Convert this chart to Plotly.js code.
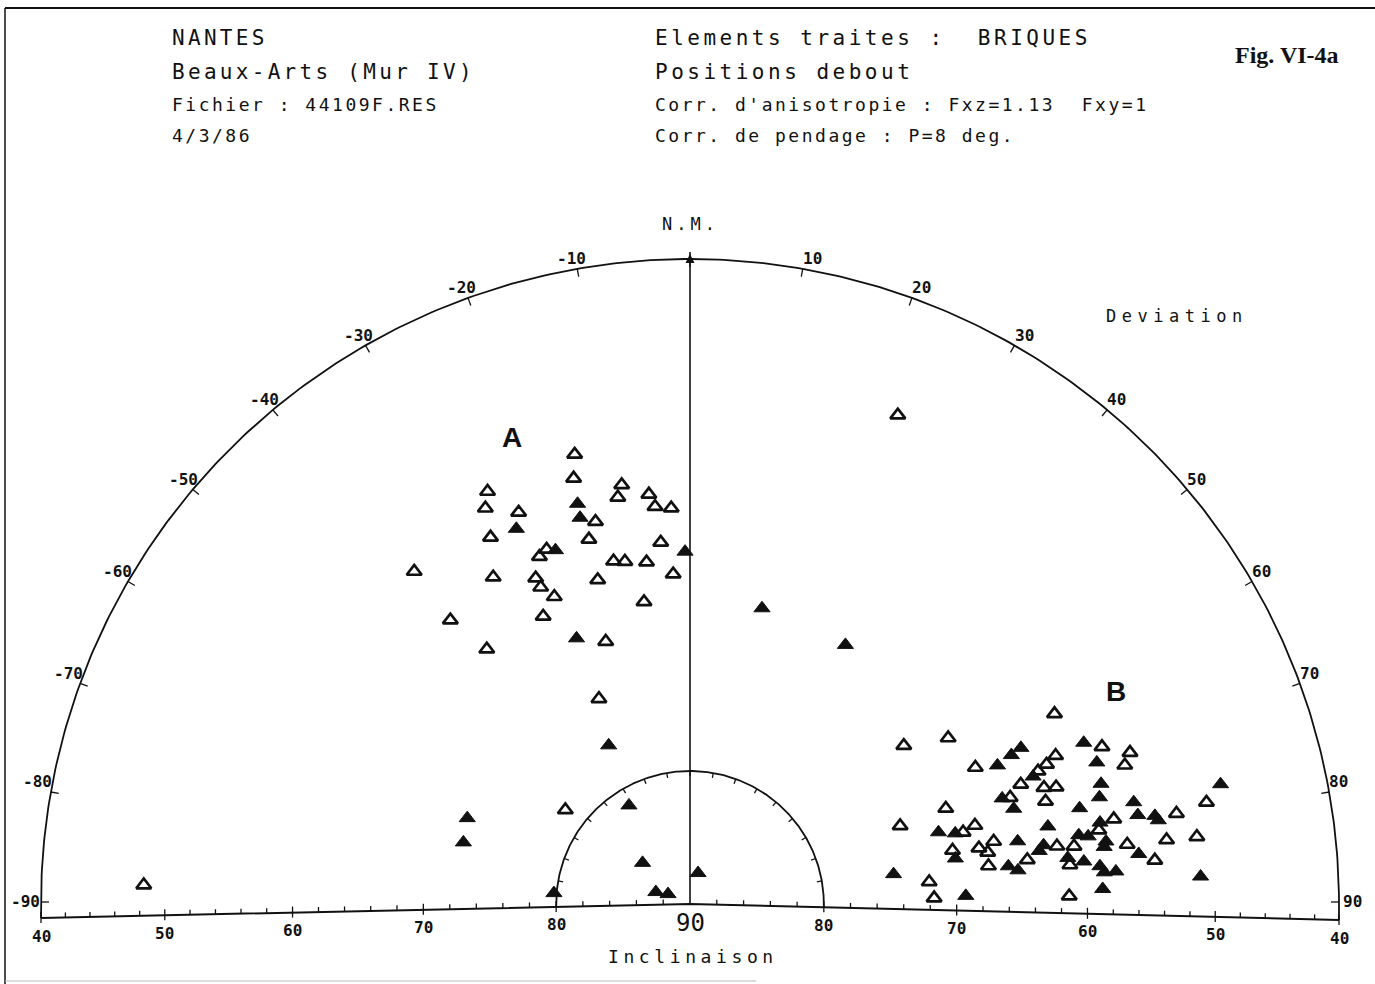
<!DOCTYPE html>
<html><head><meta charset="utf-8">
<script src="https://cdn.plot.ly/plotly-3.0.1.min.js"></script>
<style>html,body{margin:0;padding:0;background:#fff}#chart{width:1375px;height:984px}</style>
</head><body><div id="chart"></div>
<script>
// ---- Data: deviation (deg) and inclination (deg) of each specimen ----
// open triangles
const openDev = [-14.3,-15.2,-9.2,-10.0,-5.7,-5.0,-2.7,-26.0,-27.2,-23.5,-13.8,-28.4,-15.4,-4.6,-23.3,-21.9,-12.5,-10.7,-7.2,-39.5,-30.9,-25.2,-25.1,-15.8,-2.9,-23.7,-8.6,-40.0,-26.9,-17.7,-38.4,-23.8,-52.8,-88.0,22.9,
  53.3,57.1,64.3,62.3,68.5,69.0,70.0,71.7,71.5,73.8,69.4,69.5,74.5,75.2,78.3,78.4,79.0,80.1,82.5,82.7,84.7,88.6,69.0,70.9,67.8,72.2,72.2,78.8,79.4,78.6,79.7,81.0,81.4,82.2,82.3,82.4,84.1,84.6,88.8];
const openInc = [54.6,56.4,57.7,58.6,58.7,59.7,59.9,55.0,56.1,57.5,60.1,58.3,61.3,62.5,61.3,61.0,63.4,63.6,63.9,57.2,61.1,62.7,63.5,64.5,65.0,64.6,66.9,61.9,65.6,69.2,65.4,73.1,78.3,48.3,49.3,
  70.0,66.9,66.2,58.9,61.1,61.9,63.5,61.9,64.6,62.1,69.5,73.2,67.8,68.8,66.7,69.9,67.9,67.3,64.4,67.4,72.0,71.7,56.6,54.7,60.2,55.4,61.0,49.9,52.4,57.3,58.6,62.0,60.7,56.6,53.5,51.1,61.2,54.6,61.4];
// filled triangles
const fillDev = [-15.6,-15.8,-24.7,-20.7,-0.8,-23.0,-27.0,-68.8,-74.7,-31.6,-48.9,-70.6,-65.6,14.5,-85.4,13.6,30.8,
  64.6,65.0,65.6,69.5,71.2,73.5,73.8,75.0,79.1,80.5,81.3,80.2,83.2,84.1,81.6,88.3,77.7,67.6,70.7,73.6,75.3,76.1,77.0,78.7,79.2,79.8,77.2,78.7,79.9,80.3,81.4,82.1,83.0,83.8,83.6,84.7,85.6,85.6,87.9,86.9];
const fillInc = [58.4,59.5,58.6,61.3,63.3,68.2,76.6,72.1,72.4,81.3,85.3,87.3,88.2,87.6,79.8,67.0,67.2,
  62.4,63.3,64.6,62.4,65.2,64.6,70.6,69.4,64.9,63.0,63.4,69.8,65.9,65.2,74.6,69.3,62.4,57.8,57.4,57.6,58.0,59.7,55.5,55.4,54.1,53.9,48.5,58.4,60.2,59.5,58.2,58.4,61.3,60.1,55.8,58.9,58.6,57.7,58.8,51.1];

const devLabels = [-90,-80,-70,-60,-50,-40,-30,-20,-10,10,20,30,40,50,60,70,80,90];
const incLabels = [40,50,60,70,80,90];
const innerInc = 80;

const headerLeft = ["NANTES","Beaux-Arts (Mur IV)","Fichier : 44109F.RES","4/3/86"];
const headerRight = ["Elements traites :\u00a0 BRIQUES","Positions debout","Corr. d'anisotropie : Fxz=1.13\u00a0 Fxy=1","Corr. de pendage : P=8 deg."];

// ---- Equal-area projection ----
const DEG = Math.PI/180;
const S25 = Math.sin(25*DEG);
function rProj(inc){ return Math.sin((90-inc)/2*DEG)/S25; }
function px(dev, inc){ const r=rProj(inc); return r*Math.sin(dev*DEG); }
function py(dev, inc){ const r=rProj(inc); return r*Math.cos(dev*DEG); }

const W=1375, H=984, CX=690, CY=904, KX=649, KY=645;
const ux = p => p/KX, uy = p => p/KY;
const xr=[-CX/KX,(W-CX)/KX], yr=[(CY-H)/KY, CY/KY];
const BLK = '#111';
const MONO = '"DejaVu Sans Mono", monospace';
// the scanned baseline sags slightly towards both ends
const SAG_L = 14, SAG_R = 16;
function baseY(xu){ return xu<0 ? -uy(SAG_L)*(-xu) : -uy(SAG_R)*xu; }

// arcs
function arc(r){
  const x=[r*Math.sin(-90*DEG)],y=[baseY(-r)];
  for(let d=-90; d<=90.001; d+=0.5){x.push(r*Math.sin(d*DEG)); y.push(r*Math.cos(d*DEG));}
  x.push(r); y.push(baseY(r));
  return {x,y};
}
const outer = arc(1), inner = arc(rProj(innerInc));

// ticks
const tx=[], ty=[];
function seg(x0,y0,x1,y1){ tx.push(x0,x1,null); ty.push(y0,y1,null); }
for(let d=-90; d<=90; d+=10){
  const s=Math.sin(d*DEG), c=Math.cos(d*DEG);
  if(Math.abs(d)<90) seg(s, c, (1-ux(8))*s, (1-uy(8))*c);
  else seg(s, uy(2), s*(1-ux(8)), uy(2));
}
const ri = rProj(innerInc);
for(let d=-80; d<=80; d+=10){
  const s=Math.sin(d*DEG), c=Math.cos(d*DEG);
  seg(ri*s, ri*c, (ri-ux(5))*s, (ri-uy(5))*c);
}
for(let I=40; I<90; I+=2){
  [-1,1].forEach(sg=>{
    const x = sg*rProj(I), b = baseY(x);
    if(I%10===0) seg(x, b-uy(5), x, b+uy(6)); else seg(x, b, x, b+uy(5));
  });
}

const traces = [
  {x:outer.x, y:outer.y, mode:'lines', line:{color:BLK, width:1.8}, hoverinfo:'skip'},
  {x:inner.x, y:inner.y, mode:'lines', line:{color:BLK, width:1.8}, hoverinfo:'skip'},
  {x:[-1,0,1], y:[baseY(-1),0,baseY(1)], mode:'lines', line:{color:BLK, width:2}, hoverinfo:'skip'},
  {x:[0,0], y:[0, uy(CY-252)], mode:'lines', line:{color:BLK, width:1.6}, hoverinfo:'skip'},
  {x:[0], y:[uy(CY-254)], mode:'markers', marker:{symbol:'arrow-up', size:9, color:BLK, line:{width:0}}, hoverinfo:'skip'},
  {x:tx, y:ty, mode:'lines', line:{color:BLK, width:1.3}, hoverinfo:'skip', connectgaps:false},
  {x:openDev.map((d,i)=>px(d,openInc[i])), y:openDev.map((d,i)=>py(d,openInc[i])), mode:'markers',
   marker:{symbol:'triangle-up-open', size:13, color:BLK, line:{width:2.7, color:BLK}}},
  {x:fillDev.map((d,i)=>px(d,fillInc[i])), y:fillDev.map((d,i)=>py(d,fillInc[i])), mode:'markers',
   marker:{symbol:'triangle-up', size:14, color:BLK, line:{width:1, color:BLK}}}
];

const ann = [], spacing = [];
function txt(text, xpx, ypx, size, ls, opts){
  ann.push(Object.assign({text, x:xpx/W, y:1-ypx/H, xref:'paper', yref:'paper', showarrow:false,
    xanchor:'left', yanchor:'middle', align:'left', font:{family:MONO, size, color:BLK}}, opts||{}));
  spacing.push(ls);
}
// header
const hy = [38,72,104,136];
headerLeft.forEach((t,i)=>txt(t, 170, hy[i], i<2?21:18, i<2?3.3:2.5));
headerRight.forEach((t,i)=>txt(t, 653, hy[i], i<2?21:18, i<2?3.5:2.5));
txt('Fig. VI-4a', 1287, 55, 24, 0, {xanchor:'center', align:'center', font:{family:'"Liberation Serif", serif', size:24, color:BLK, weight:'bold'}});
// group labels
txt('A', 512, 437, 28, 0, {xanchor:'center', align:'center', font:{family:'"Liberation Sans", Arial, sans-serif', size:28, color:BLK, weight:'bold'}});
txt('B', 1116, 691, 28, 0, {xanchor:'center', align:'center', font:{family:'"Liberation Sans", Arial, sans-serif', size:28, color:BLK, weight:'bold'}});
// axis names
txt('N.M.', 690, 224, 17, 4, {xanchor:'center', align:'center'});
txt('Deviation', 1104, 316, 17, 5.5);
txt('Inclinaison', 606, 956, 18, 4.6);
// deviation labels
const numFont = {family:MONO, size:16, color:BLK, weight:'bold'};
devLabels.forEach(d=>{
  const tpx = CX + KX*Math.sin(d*DEG), tpy = CY - KY*Math.cos(d*DEG);
  const yy = Math.abs(d)===90 ? tpy - 3 : tpy - 10;
  if(d<0) txt(String(d), tpx + 10*Math.cos(d*DEG)+1, yy, 16, 0, {xanchor:'right', align:'right', font:numFont});
  else txt(String(d), tpx + (Math.abs(d)===90 ? 2 : -2), yy, 16, 0, {font:numFont});
});
// inclination labels
incLabels.forEach(I=>{
  const sides = I===90 ? [1] : [-1,1];
  sides.forEach(sg=>{
    const xu = sg*rProj(I), xpx = CX + KX*xu;
    const bpx = CY - KY*baseY(xu);
    if(I===90) txt(String(I), xpx, bpx+19, 24, 0, {xanchor:'center', align:'center'});
    else txt(String(I), xpx, bpx+18, 16, 0, {xanchor:'center', align:'center', font:numFont});
  });
});

const layout = {
  width:W, height:H, margin:{l:0,r:0,t:0,b:0}, paper_bgcolor:'#fff', plot_bgcolor:'#fff', showlegend:false,
  xaxis:{range:xr, visible:false, fixedrange:true}, yaxis:{range:yr, visible:false, fixedrange:true},
  annotations: ann,
  shapes:[
    {type:'line', xref:'paper', yref:'paper', x0:5/W, x1:1, y0:1-8/H, y1:1-8/H, line:{color:BLK, width:2}},
    {type:'line', xref:'paper', yref:'paper', x0:5/W, x1:5/W, y0:1-8/H, y1:0, line:{color:BLK, width:1.5}},
    {type:'line', xref:'paper', yref:'paper', x0:5/W, x1:0.55, y0:1-981/H, y1:1-981/H, line:{color:'#bbb', width:1}}
  ]
};

Plotly.newPlot('chart', traces, layout, {staticPlot:true, displayModeBar:false}).then(()=>{
  document.querySelectorAll('g.annotation').forEach(g=>{
    const i = +g.getAttribute('data-index');
    const t = g.querySelector('text.annotation-text');
    if(t && spacing[i]) t.style.letterSpacing = spacing[i]+'px';
  });
});
</script>
</body></html>
